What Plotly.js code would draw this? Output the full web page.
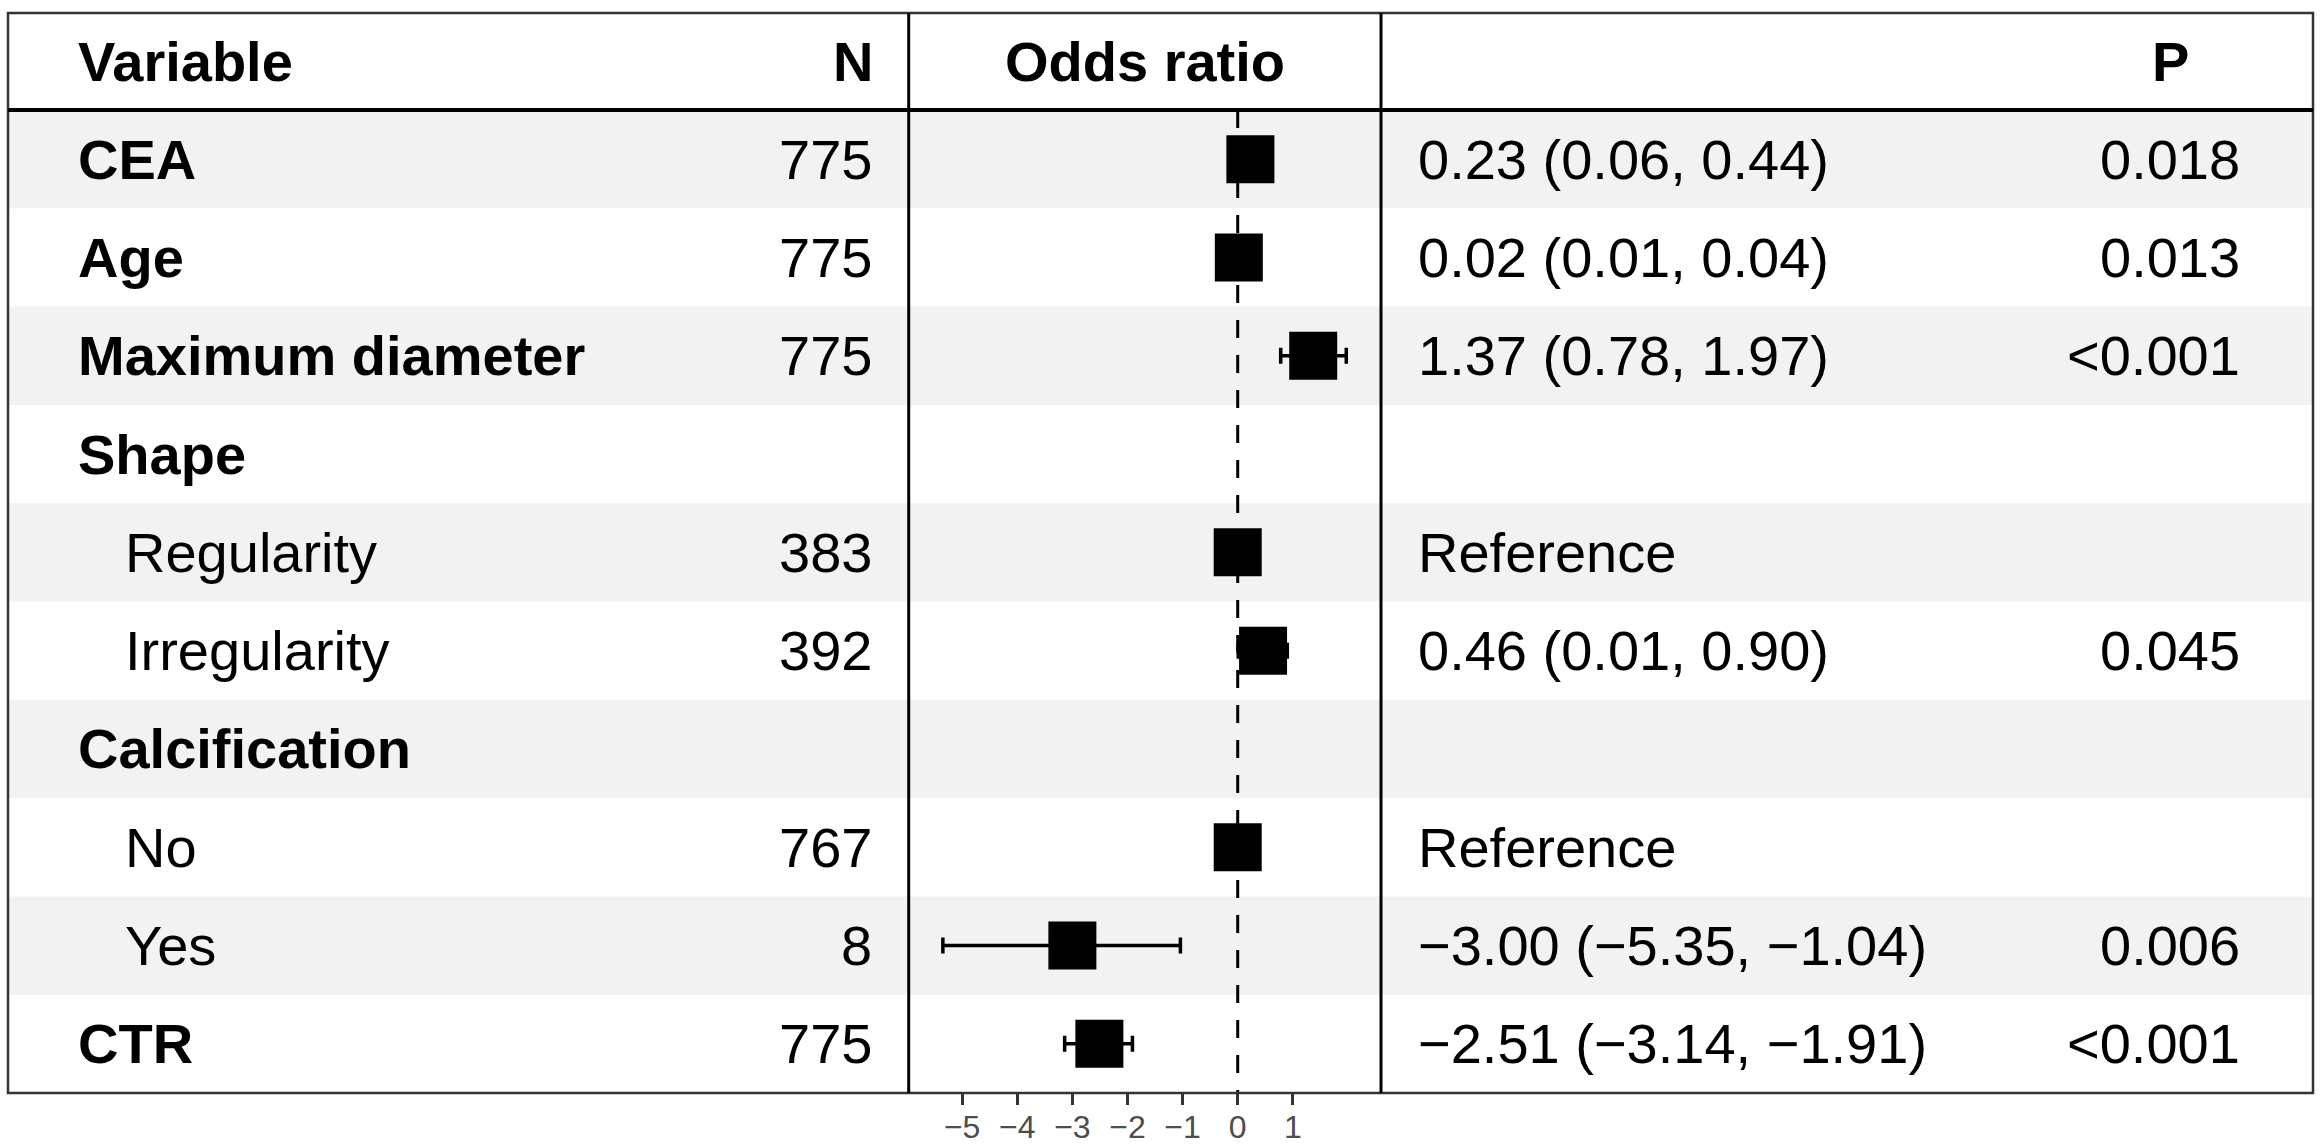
<!DOCTYPE html>
<html>
<head>
<meta charset="utf-8">
<script src="https://cdn.plot.ly/plotly-3.0.1.min.js"></script>
<style>html,body{margin:0;padding:0;background:#fff;}#chart{width:2324px;height:1148px;}</style>
</head>
<body>
<div id="chart"></div>
<script>
// ---- data ----
const variables = ["CEA","Age","Maximum diameter","Shape","Regularity","Irregularity","Calcification","No","Yes","CTR"];
const isGroup   = [true, true, true, true, false, false, true, false, false, true];
const nValues   = ["775","775","775","","383","392","","767","8","775"];
const estimates = [0.23, 0.02, 1.37, null, 0, 0.46, null, 0, -3.00, -2.51];
const ciLower   = [0.06, 0.01, 0.78, null, null, 0.01, null, null, -5.35, -3.14];
const ciUpper   = [0.44, 0.04, 1.97, null, null, 0.90, null, null, -1.04, -1.91];
const isReference = [false,false,false,false,true,false,false,true,false,false];
const pValues   = ["0.018","0.013","<0.001","","","0.045","","","0.006","<0.001"];
const tickValues = [-5,-4,-3,-2,-1,0,1];
const headers = {variable:"Variable", n:"N", or:"Odds ratio", p:"P"};

// ---- layout helpers ----
const W = 2324, H = 1148;
const px = x => x / W;
const py = y => 1 - y / H;
const FONT = "Liberation Sans, Arial, Helvetica, sans-serif";
const TOP = 13, HEAD = 110, BOT = 1093, LEFT = 8, RIGHT = 2313;
const COL1 = 908.7, COL2 = 1381;
const FS = 56;

const rows = variables.map((_, i) => i + 1);
const fmt = v => v.toFixed(2).replace("-", "\u2212");
const ciText = estimates.map((e, i) => {
  if (isReference[i]) return "Reference";
  if (e === null) return "";
  return fmt(e) + " (" + fmt(ciLower[i]) + ", " + fmt(ciUpper[i]) + ")";
});

// ---- traces ----
const idx = rows.map((r,i)=>i).filter(i => estimates[i] !== null);
const trace = {
  type: "scatter",
  mode: "markers",
  x: idx.map(i => estimates[i]),
  y: idx.map(i => rows[i]),
  marker: {symbol: "square", size: 48, color: "#000"},
  error_x: {
    type: "data",
    symmetric: false,
    array: idx.map(i => ciUpper[i] === null ? 0 : ciUpper[i] - estimates[i]),
    arrayminus: idx.map(i => ciLower[i] === null ? 0 : estimates[i] - ciLower[i]),
    color: "#000",
    thickness: 3.5,
    width: 8
  },
  hoverinfo: "skip",
  showlegend: false,
  cliponaxis: false
};

// ---- shapes ----
const shapes = [];
rows.forEach((r, i) => {
  if (i % 2 === 0) {
    shapes.push({type:"rect", xref:"paper", yref:"y", x0:px(LEFT), x1:px(RIGHT), y0:r-0.5, y1:r+0.5,
      fillcolor:"#f2f2f2", line:{width:0}, layer:"below"});
  }
});
shapes.push({type:"line", xref:"x", yref:"y", x0:0, x1:0, y0:0.5, y1:10.5,
  line:{color:"#000", width:3, dash:"18px,17px"}, layer:"below"});
// outer border
shapes.push({type:"rect", xref:"paper", yref:"paper", x0:px(LEFT), x1:px(RIGHT), y0:py(BOT), y1:py(TOP),
  line:{color:"#333", width:2.5}, fillcolor:"rgba(0,0,0,0)"});
// header line
shapes.push({type:"line", xref:"paper", yref:"paper", x0:px(LEFT), x1:px(RIGHT), y0:py(HEAD), y1:py(HEAD),
  line:{color:"#000", width:4}});
// column lines
[COL1, COL2].forEach(c => shapes.push({type:"line", xref:"paper", yref:"paper", x0:px(c), x1:px(c), y0:py(BOT), y1:py(TOP),
  line:{color:"#000", width:3}}));

// ---- annotations ----
const ann = [];
const hy = py((TOP + HEAD) / 2);
const base = {showarrow:false, yanchor:"middle", borderpad:0};
const f = {family:FONT, size:FS, color:"#000"};
ann.push({...base, xref:"paper", yref:"paper", x:px(77), y:hy, xanchor:"left", text:"<b>"+headers.variable+"</b>", font:f});
ann.push({...base, xref:"paper", yref:"paper", x:px(874), y:hy, xanchor:"right", text:"<b>"+headers.n+"</b>", font:f});
ann.push({...base, xref:"paper", yref:"paper", x:px((COL1+COL2)/2), y:hy, xanchor:"center", text:"<b>"+headers.or+"</b>", font:f});
ann.push({...base, xref:"paper", yref:"paper", x:px(2170), y:hy, xanchor:"center", text:"<b>"+headers.p+"</b>", font:f});

rows.forEach((r, i) => {
  ann.push({...base, xref:"paper", yref:"y", x:px(isGroup[i] ? 77 : 124), y:r, xanchor:"left",
    text: isGroup[i] ? "<b>"+variables[i]+"</b>" : variables[i], font:f});
  if (nValues[i]) ann.push({...base, xref:"paper", yref:"y", x:px(873), y:r, xanchor:"right", text:nValues[i], font:f});
  if (ciText[i]) ann.push({...base, xref:"paper", yref:"y", x:px(1417), y:r, xanchor:"left", text:ciText[i], font:f});
  if (pValues[i]) ann.push({...base, xref:"paper", yref:"y", x:px(2241), y:r, xanchor:"right", text:pValues[i].replace("<","&lt;"), font:f});
});

const layout = {
  width: W, height: H,
  margin: {l:0, r:0, t:0, b:0},
  paper_bgcolor: "#fff",
  plot_bgcolor: "rgba(0,0,0,0)",
  showlegend: false,
  xaxis: {
    domain: [px(COL1), px(COL2)],
    range: [-5.97, 2.60],
    tickvals: tickValues,
    ticks: "outside", ticklen: 11, tickwidth: 3, tickcolor: "#333",
    ticklabelstandoff: -5,
    tickfont: {family: FONT, size: 32, color: "#4d4d4d"},
    showgrid: false, zeroline: false, showline: false,
    fixedrange: true
  },
  yaxis: {
    domain: [py(BOT), py(HEAD)],
    range: [10.5, 0.5],
    visible: false, showgrid: false, zeroline: false,
    fixedrange: true
  },
  shapes: shapes,
  annotations: ann
};

Plotly.newPlot("chart", [trace], layout, {displayModeBar: false, staticPlot: true});
</script>
</body>
</html>
